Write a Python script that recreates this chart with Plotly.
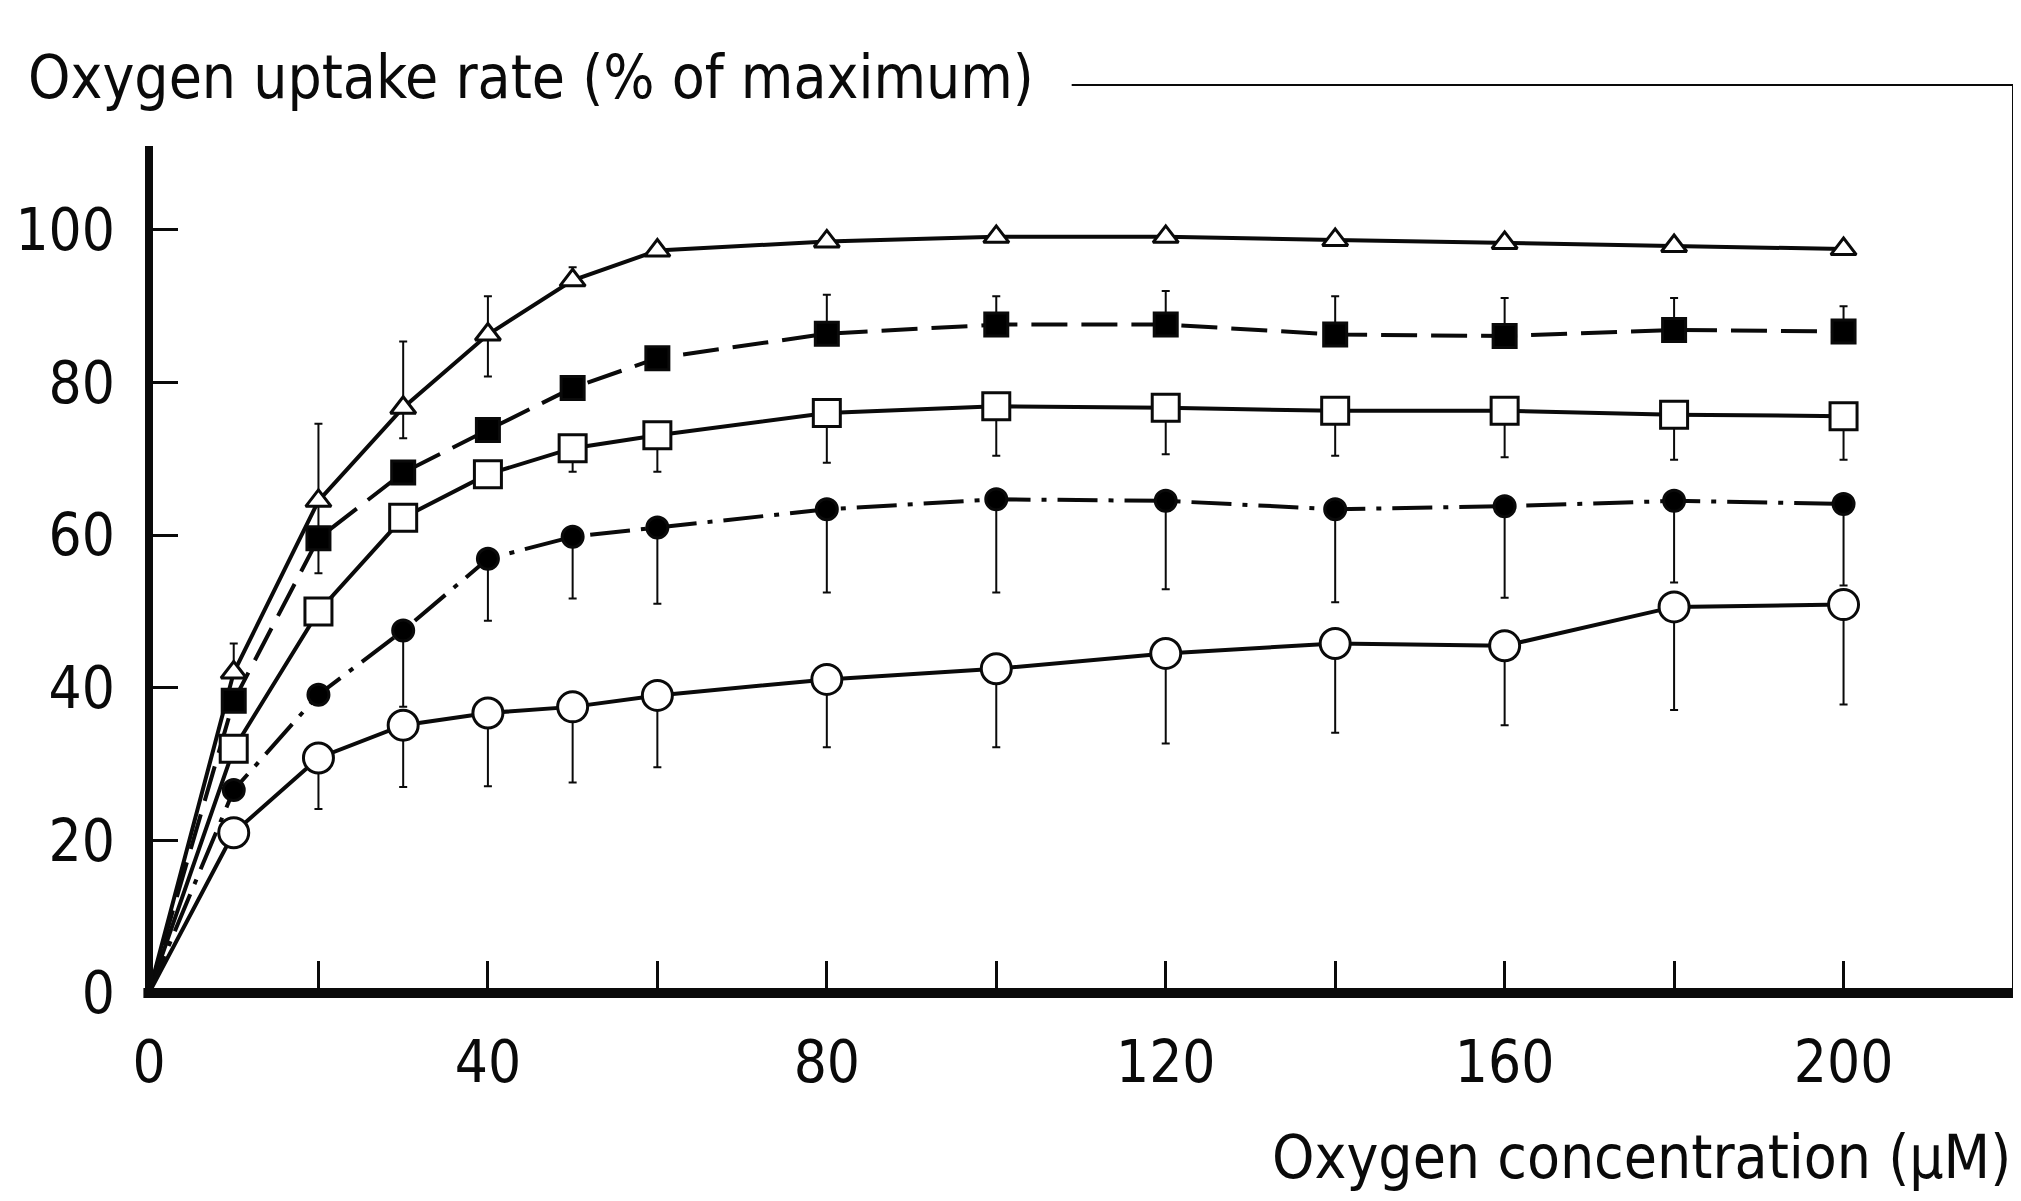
import plotly.graph_objects as go

# Oxygen concentration (uM)
X = [0, 10, 20, 30, 40, 50, 60, 80, 100, 120, 140, 160, 180, 200]

# open triangles
tri = [0, 42, 64.5, 76.7, 86.3, 93.4, 97.3, 98.5, 99.1, 99.1, 98.7, 98.3, 97.9, 97.5]
tri_up = [None, 3.8, 10.1, 8.7, 5.0, 1.7, 0, 0, 0, 0, 0, 0, 0, 0]
tri_dn = [None, 0, 9.5, 4.0, 5.5, 0, 0, 0, 0, 0, 0, 0, 0, 0]

# filled squares
fsq = [0, 38.3, 59.6, 68.2, 73.8, 79.3, 83.2, 86.4, 87.6, 87.6, 86.3, 86.1, 86.9, 86.7]
fsq_up = [None, 0, 0, 0, 0, 0, 0, 5.1, 3.7, 4.4, 5.0, 5.0, 4.2, 3.3]
fsq_dn = [None, 0, 0, 0, 0, 0, 0, 0, 0, 0, 0, 0, 0, 0]

# open squares
osq = [0, 32, 50, 62.3, 68, 71.4, 73.1, 76, 76.9, 76.7, 76.3, 76.3, 75.8, 75.6]
osq_up = [None, 0, 0, 0, 0, 0, 0, 0, 0, 0, 0, 0, 0, 0]
osq_dn = [None, 0, 0, 0, 0, 3.1, 4.8, 6.5, 6.5, 6.1, 5.9, 6.1, 5.9, 5.7]

# filled circles
fci = [0, 26.6, 39.1, 47.5, 56.9, 59.8, 61, 63.4, 64.7, 64.5, 63.4, 63.8, 64.5, 64.1]
fci_up = [None, 0, 0, 0, 0, 0, 0, 0, 0, 0, 0, 0, 0, 0]
fci_dn = [None, 0, 0, 10, 8.1, 8.1, 10, 10.9, 12.2, 11.6, 12.2, 12.0, 10.7, 10.7]

# open circles
oci = [0, 21, 30.8, 35.1, 36.7, 37.5, 39, 41.1, 42.5, 44.5, 45.8, 45.5, 50.6, 50.9]
oci_up = [None, 0, 0, 0, 0, 0, 0, 0, 0, 0, 0, 0, 0, 0]
oci_dn = [None, 0, 6.7, 8.1, 9.6, 9.9, 9.4, 8.9, 10.3, 11.8, 11.7, 10.4, 13.5, 13.1]

X_TICKS = [0, 20, 40, 60, 80, 100, 120, 140, 160, 180, 200]
X_TICKTEXT = ["0", "", "40", "", "80", "", "120", "", "160", "", "200"]
Y_TICKS = [0, 20, 40, 60, 80, 100]
Y_TICKTEXT = ["0", "20", "40", "60", "80", "100"]

X_MAX = 220
Y_MAX = 119
Y_AXIS_TOP = 111

FONT = "Liberation Sans Narrow, DejaVu Sans Condensed, Roboto Condensed, Arial Narrow, Roboto, sans-serif"
INK = "#0a0a0a"

fig = go.Figure()


def add(y, up, dn, symbol, fill, size, dash, lw=4):
    n = len(X)
    fig.add_trace(go.Scatter(
        x=X, y=y, mode="lines+markers",
        line=dict(color=INK, width=lw, dash=dash),
        marker=dict(symbol=symbol, size=[0] + [size] * (n - 1), color=fill, opacity=1,
                    line=dict(color=INK, width=[0] + [3] * (n - 1))),
        error_y=dict(type="data", symmetric=False, array=up, arrayminus=dn,
                     color=INK, thickness=2, width=4),
        cliponaxis=False, showlegend=False, hoverinfo="x+y"))


add(tri, tri_up, tri_dn, "triangle-up", "white", 22, "solid")
add(fsq, fsq_up, fsq_dn, "square", "black", 23, "36px,14px")
add(osq, osq_up, osq_dn, "square", "white", 27, "solid")
add(fci, fci_up, fci_dn, "circle", "black", 21, "40px,11px,5px,11px")
add(oci, oci_up, oci_dn, "circle", "white", 30, "solid")

# heavy axes (paper refs so they are not clipped), plus thin frame
fig.add_shape(type="line", xref="paper", yref="paper", x0=0, x1=0, y0=0, y1=Y_AXIS_TOP / Y_MAX,
              line=dict(color=INK, width=8), layer="above")
fig.add_shape(type="line", xref="paper", yref="paper", x0=-0.003, x1=1, y0=0, y1=0,
              line=dict(color=INK, width=10), layer="above")
fig.add_shape(type="line", xref="paper", yref="paper", x0=0.495, x1=1, y0=1, y1=1,
              line=dict(color=INK, width=2), layer="above")
fig.add_shape(type="line", xref="paper", yref="paper", x0=1, x1=1, y0=0, y1=1,
              line=dict(color=INK, width=2), layer="above")

fig.add_annotation(text="Oxygen uptake rate (% of maximum)", xref="paper", yref="paper",
                   x=-0.066, y=1.009, xanchor="left", yanchor="middle", showarrow=False,
                   font=dict(family=FONT, size=60, color=INK))
fig.add_annotation(text="Oxygen concentration (μM)", xref="paper", yref="paper",
                   x=1.0, y=-0.181, xanchor="right", yanchor="middle", showarrow=False,
                   font=dict(family=FONT, size=60, color=INK))

fig.update_layout(
    width=2005, height=1185,
    margin=dict(l=141, r=0, t=77, b=200),
    paper_bgcolor="white", plot_bgcolor="white",
    font=dict(family=FONT, size=58, color=INK),
    xaxis=dict(range=[0, X_MAX], tickvals=X_TICKS, ticktext=X_TICKTEXT, ticks="inside",
               ticklen=32, tickwidth=2.5, tickcolor=INK, showgrid=False, zeroline=False,
               showline=False, ticklabelstandoff=30),
    yaxis=dict(range=[0, Y_MAX], tickvals=Y_TICKS, ticktext=Y_TICKTEXT, ticks="inside",
               ticklen=29, tickwidth=3, tickcolor=INK, showgrid=False, zeroline=False,
               showline=False, ticklabelstandoff=33),
)

fig.write_html("out.html")
